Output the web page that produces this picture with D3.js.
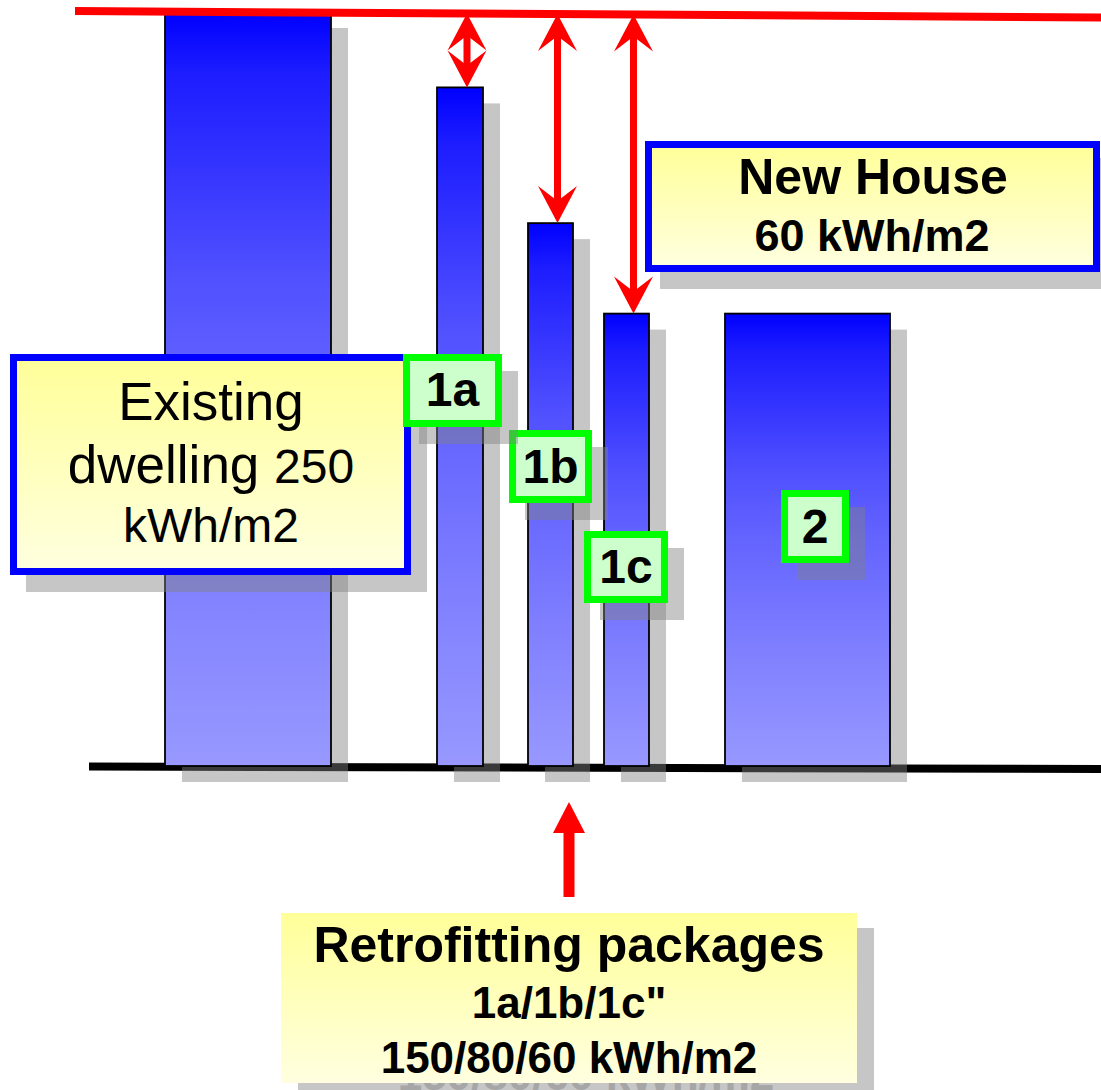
<!DOCTYPE html>
<html>
<head>
<meta charset="utf-8">
<script src="https://cdn.jsdelivr.net/npm/d3@7"></script>
<style>
  html, body { margin: 0; padding: 0; background: #ffffff; }
  svg { display: block; }
  text { font-family: "Liberation Sans", Arial, sans-serif; }
</style>
</head>
<body>
<svg id="chart" width="1101" height="1090"></svg>
<script>
// ---------- DATA ----------
const categories = ["Existing dwelling", "1a", "1b", "1c", "2"];
const values = [250, 225, 180, 150, 150];          // kWh/m2 (bar heights as drawn)
const arrowCategories = ["1a", "1b", "1c"];          // savings arrows from reference line
const referenceValue = 250;
const markerLabels = ["1c", "1b", "1a", "2"];
const existingLines = ["Existing", "dwelling", "250", "kWh/m2"];
const newHouseLines = ["New House", "60 kWh/m2"];
const retrofitLines = ["Retrofitting packages", "1a/1b/1c\"", "150/80/60 kWh/m2"];

// ---------- LAYOUT ----------
const W = 1101, H = 1090;
const svg = d3.select("#chart");
const y = d3.scaleLinear().domain([0, 250]).range([766, 12]);
const xLeft = d3.scaleOrdinal().domain(categories).range([165, 437, 528, 604, 725]);
const xWidth = d3.scaleOrdinal().domain(categories).range([166, 46, 45, 45, 165]);
const SH = {dx: 17, dy: 16};
const shadowFill = "#808080", shadowOp = 0.45;

const defs = svg.append("defs");
const gBlue = defs.append("linearGradient").attr("id", "gBlue").attr("x1", 0).attr("y1", 0).attr("x2", 0).attr("y2", 1);
[[0, "#0000ff"], [0.08, "#1c1cff"], [0.35, "#5050ff"], [0.5, "#6464ff"], [0.75, "#8080ff"], [1, "#9898ff"]]
  .forEach(([o, c]) => gBlue.append("stop").attr("offset", o).attr("stop-color", c));
const gYellow = defs.append("linearGradient").attr("id", "gYellow").attr("x1", 0).attr("y1", 0).attr("x2", 0).attr("y2", 1);
[[0, "#ffff99"], [1, "#ffffe0"]].forEach(([o, c]) => gYellow.append("stop").attr("offset", o).attr("stop-color", c));

// ---------- BASELINE ----------
svg.append("line").attr("x1", 89).attr("y1", 766.5).attr("x2", W).attr("y2", 769)
  .attr("stroke", "#000").attr("stroke-width", 8);

const bars = categories.map((c, i) => ({c, v: values[i]}));

// bar shadows
svg.append("g").selectAll("rect").data(bars).join("rect")
  .attr("x", d => xLeft(d.c) + SH.dx).attr("y", d => y(d.v) + SH.dy)
  .attr("width", d => xWidth(d.c)).attr("height", d => y(0) - y(d.v))
  .attr("fill", shadowFill).attr("opacity", shadowOp);

// bars
svg.append("g").selectAll("rect").data(bars).join("rect")
  .attr("x", d => xLeft(d.c)).attr("y", d => y(d.v))
  .attr("width", d => xWidth(d.c)).attr("height", d => y(0) - y(d.v))
  .attr("fill", "url(#gBlue)").attr("stroke", "#000").attr("stroke-width", 1.8);

// ---------- helper: box with shadow ----------
function box(x0, y0, x1, y1, opts) {
  const g = svg.append("g");
  const sdx = opts.sdx ?? 16, sdy = opts.sdy ?? 17;
  g.append("rect").attr("x", x0 + sdx).attr("y", y0 + sdy).attr("width", x1 - x0).attr("height", y1 - y0)
    .attr("fill", shadowFill).attr("opacity", shadowOp);
  const ghostLayer = g.append("g");
  const sw = opts.sw || 0;
  g.append("rect").attr("x", x0 + sw / 2).attr("y", y0 + sw / 2)
    .attr("width", x1 - x0 - sw).attr("height", y1 - y0 - sw)
    .attr("fill", opts.fill).attr("stroke", opts.stroke || "none").attr("stroke-width", sw);
  g.ghostLayer = ghostLayer; g.sdx = sdx; g.sdy = sdy;
  return g;
}

// ---------- Existing dwelling label ----------
const gEx = box(10, 354, 411, 575, {fill: "url(#gYellow)", stroke: "#0000ff", sw: 7});
gEx.append("text").attr("x", 211).attr("y", 420).attr("text-anchor", "middle")
  .attr("font-size", 53).text(existingLines[0]);
const t2 = gEx.append("text").attr("x", 211).attr("y", 483).attr("text-anchor", "middle");
t2.append("tspan").attr("font-size", 53).text(existingLines[1] + " ");
t2.append("tspan").attr("font-size", 48).text(existingLines[2]);
gEx.append("text").attr("x", 211).attr("y", 542).attr("text-anchor", "middle")
  .attr("font-size", 48).text(existingLines[3]);

// ---------- marker labels ----------
const markerPos = {
  "1a": [403, 354, 502, 427, 406],
  "1b": [509, 430, 592, 503, 483],
  "1c": [584, 531, 668, 603, 583],
  "2":  [781, 490, 849, 563, 543]
};
markerLabels.forEach(lbl => {
  const [x0, y0, x1, y1, bl] = markerPos[lbl];
  const g = box(x0, y0, x1, y1, {fill: "#ccffcc", stroke: "#00ff00", sw: 7});
  g.append("text").attr("x", (x0 + x1) / 2).attr("y", bl).attr("text-anchor", "middle")
    .attr("font-size", 48).attr("font-weight", "bold").text(lbl);
});

// ---------- New House label ----------
const gNew = box(645, 141, 1100, 272, {fill: "url(#gYellow)", stroke: "#0000ff", sw: 7, sdx: 15});
gNew.append("text").attr("x", 873).attr("y", 194).attr("text-anchor", "middle")
  .attr("font-size", 50).attr("font-weight", "bold").text(newHouseLines[0]);
gNew.append("text").attr("x", 872).attr("y", 251).attr("text-anchor", "middle")
  .attr("font-size", 45).attr("font-weight", "bold").text(newHouseLines[1]);

// ---------- reference line ----------
const refX0 = 75, refX1 = W;
const refY0 = y(referenceValue) - 1, refY1 = y(referenceValue) + 5.5;
const refY = x => refY0 + (x - refX0) * (refY1 - refY0) / (refX1 - refX0);
svg.append("line").attr("x1", refX0).attr("y1", refY0).attr("x2", refX1).attr("y2", refY1)
  .attr("stroke", "#ff0000").attr("stroke-width", 8);

// ---------- double arrows ----------
const red = "#ff0000";
function head(g, x, tip, dir, L, hw, n) {
  const b = tip + dir * L, nt = tip + dir * (L - n);
  g.append("path").attr("d", `M${x},${tip}L${x + hw},${b}L${x},${nt}L${x - hw},${b}Z`).attr("fill", red);
}
const gArr = svg.append("g");
arrowCategories.forEach(c => {
  const i = categories.indexOf(c);
  const x = xLeft(c) + xWidth(c) / 2 + 7;
  const yt = refY(x), yb = y(values[i]);
  gArr.append("rect").attr("x", x - 3.5).attr("y", yt + 15).attr("width", 7).attr("height", Math.max(0, yb - yt - 30)).attr("fill", red);
  head(gArr, x, yt, 1, 37, 19.5, 15);
  head(gArr, x, yb, -1, 37, 19.5, 15);
});

// ---------- bottom arrow ----------
const bx = 569;
svg.append("rect").attr("x", bx - 5.5).attr("y", 830).attr("width", 11).attr("height", 67).attr("fill", red);
svg.append("path").attr("d", `M${bx},802L${bx + 16},833L${bx - 16},833Z`).attr("fill", red);

// ---------- Retrofitting label ----------
const gRet = box(281, 913, 857, 1083, {fill: "url(#gYellow)", sdx: 17, sdy: 15});
gRet.append("text").attr("x", 569).attr("y", 962).attr("text-anchor", "middle")
  .attr("font-size", 50).attr("font-weight", "bold").text(retrofitLines[0]);
gRet.append("text").attr("x", 569).attr("y", 1018).attr("text-anchor", "middle")
  .attr("font-size", 44).attr("font-weight", "bold").text(retrofitLines[1]);
gRet.append("text").attr("id", "retroLast").attr("x", 569).attr("y", 1073).attr("text-anchor", "middle")
  .attr("font-size", 44).attr("font-weight", "bold").text(retrofitLines[2]);
// text shadow (a clone of the last line, hidden behind the box except below it)
gRet.ghostLayer.append("use").attr("href", "#retroLast")
  .attr("transform", `translate(${gRet.sdx},${gRet.sdy + 2})`)
  .attr("fill", shadowFill).attr("opacity", shadowOp);
</script>
</body>
</html>
